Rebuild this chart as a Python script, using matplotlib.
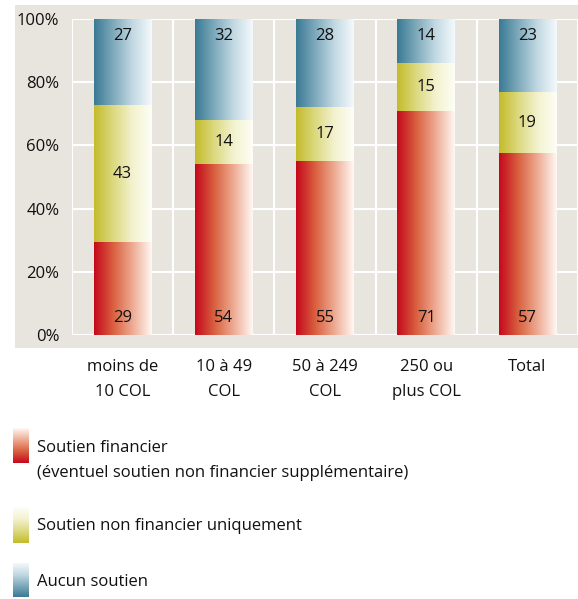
import numpy as np
import matplotlib
matplotlib.use("Agg")
import matplotlib.pyplot as plt
from matplotlib.colors import LinearSegmentedColormap

plt.rcParams['font.family'] = ['Open Sans', 'DejaVu Sans']

categories = ["moins de\n10 COL", "10 à 49\nCOL", "50 à 249\nCOL", "250 ou\nplus COL", "Total"]
financier = [29, 54, 55, 71, 57]
non_financier = [43, 14, 17, 15, 19]
aucun = [27, 32, 28, 14, 23]
series_names = ["Soutien financier\n(éventuel soutien non financier supplémentaire)",
                "Soutien non financier uniquement",
                "Aucun soutien"]

W, H = 578, 599
BG = "#e8e5df"
TXT = "#111111"
FS = 12

cmaps = [
    LinearSegmentedColormap.from_list("r", ["#c5081c", "#d9603f", "#eeab93", "#fff8f5"]),
    LinearSegmentedColormap.from_list("y", ["#c3bb2a", "#dcd980", "#f3f2cf", "#fefef6"]),
    LinearSegmentedColormap.from_list("b", ["#3a7a94", "#7eaabc", "#c2d9e3", "#f4f9fc"]),
]
grad_h = np.linspace(0, 1, 256).reshape(1, -1)
grad_v = np.linspace(1, 0, 256).reshape(-1, 1)

fig = plt.figure(figsize=(W / 100, H / 100), dpi=100)

# background layer in pixel coordinates
bg = fig.add_axes([0, 0, 1, 1], zorder=0)
bg.set_xlim(0, W)
bg.set_ylim(H, 0)
bg.axis("off")
bg.add_patch(plt.Rectangle((15, 5), W - 15, 343, color=BG, lw=0))

# main chart (shares shown as 100% stacks)
ax = fig.add_axes([72 / W, (H - 335) / H, (W - 72) / W, 316 / H], zorder=1)
ax.set_facecolor(BG)
x = np.arange(len(categories))
data = np.array([financier, non_financier, aucun], dtype=float)
shares = data / data.sum(axis=0) * 100
bottom = np.zeros(len(categories))
width = 0.57
for i in range(3):
    bars = ax.bar(x, shares[i], width, bottom=bottom, color="none", lw=0)
    for j, b in enumerate(bars):
        bx, by, bw, bh = b.get_x(), b.get_y(), b.get_width(), b.get_height()
        ax.imshow(grad_h, cmap=cmaps[i], extent=[bx, bx + bw, by, by + bh],
                  aspect="auto", zorder=2, interpolation="bilinear")
        if i == 0:
            ty = 5.5
        elif i == 2:
            ty = 94.5
        else:
            ty = by + bh / 2
        ax.text(x[j], ty, str(int(data[i, j])), ha="center", va="center",
                fontsize=FS, color=TXT, zorder=3)
    bottom += shares[i]

ax.set_xlim(-0.5, len(categories) - 0.5)
ax.set_ylim(0, 100)
ax.set_yticks(np.arange(0, 101, 20))
ax.set_yticklabels([f"{v}%" for v in range(0, 101, 20)], fontsize=FS, color=TXT)
ax.set_xticks(x)
ax.set_xticklabels(categories, fontsize=FS, color=TXT, linespacing=1.75)
ax.set_xticks(np.arange(-0.5, len(categories), 1), minor=True)
ax.tick_params(axis="both", which="both", length=0)
ax.tick_params(axis="y", pad=9)
ax.tick_params(axis="x", pad=17)
ax.grid(True, axis="y", color="white", lw=1.5, zorder=1)
ax.grid(True, axis="x", which="minor", color="white", lw=1.5, zorder=1)
ax.grid(False, axis="x", which="major")
ax.set_axisbelow(True)
for s in ax.spines.values():
    s.set_visible(False)

# legend
leg_y = [(428, 463, 460.5), (507, 543, 526), (563, 597, 582)]
for i, (y0, y1, ty) in enumerate(leg_y):
    bg.imshow(grad_v, cmap=cmaps[i], extent=[13, 29, y1, y0], aspect="auto",
              interpolation="bilinear")
    bg.text(37, ty, series_names[i], ha="left", va="center", fontsize=FS,
            color=TXT, linespacing=1.7)
bg.set_xlim(0, W)
bg.set_ylim(H, 0)

fig.savefig("out.png", dpi=100)
